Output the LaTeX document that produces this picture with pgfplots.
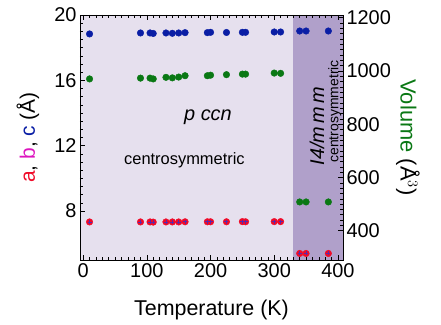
\documentclass[border=0pt]{standalone}
\usepackage{pgfplots}
\pgfplotsset{compat=1.18}
\usepackage{pgfplotstable}
\usepackage{fontspec}
\setmainfont{Liberation Sans}
\setsansfont{Liberation Sans}
\definecolor{bgl}{RGB}{230,224,238}
\definecolor{bgd}{RGB}{176,160,202}
\definecolor{cblue}{RGB}{10,30,165}
\definecolor{cgreen}{RGB}{10,120,20}
\definecolor{cred}{RGB}{240,10,40}
\definecolor{cmag}{RGB}{220,20,190}
\definecolor{cpur}{RGB}{90,40,170}

\pgfplotstableread{
T a b c V
10 7.33 7.33 18.84 970
90 7.33 7.33 18.90 973
105 7.33 7.33 18.90 973
110 7.32 7.32 18.87 970
130 7.33 7.33 18.90 976
140 7.33 7.33 18.88 974
150 7.33 7.33 18.90 977
160 7.34 7.34 18.92 982
195 7.34 7.34 18.92 982
200 7.34 7.34 18.94 984
225 7.34 7.34 18.93 986
250 7.35 7.35 18.94 988
255 7.34 7.34 18.94 988
300 7.35 7.35 18.96 992
310 7.35 7.35 18.96 991
}\pccn
\pgfplotstableread{
T a b c V
340 5.40 5.40 19.02 508
350 5.40 5.40 19.02 508
385 5.40 5.40 19.02 508
}\itet

\begin{document}
\begin{tikzpicture}
\pgfplotsset{
 common/.style={scale only axis, width=263bp, height=245bp, xmin=-5, xmax=408,
   tick align=inside, /pgf/number format/assume math mode=true,
   /pgf/number format/1000 sep={},
   tick label style={font=\fontsize{20}{20}\selectfont},
   label style={font=\fontsize{21}{21}\selectfont},
   major tick length=5bp, minor tick length=2.8bp,
   every tick/.style={black, line width=0.6pt},
   every minor tick/.style={black, line width=0.5pt},
   axis line style={line width=0.8pt},
   axis on top}
}
\begin{axis}[common, name=main, ymin=5, ymax=20,
  axis background/.style={fill=bgl},
  ytick={8,12,16,20}, minor y tick num=7, ytick pos=left,
  xtick={0,100,...,400}, minor x tick num=9, xtick pos=both,
  xticklabel pos=lower,
  xlabel={Temperature (K)},
  xlabel style={at={(axis description cs:0.5,-0.204)}, anchor=center, font=\fontsize{21.5}{21.5}\selectfont},
  ylabel={\textcolor{cred}{a}, \textcolor{cmag}{b}, \textcolor{cblue}{c} (Å)},
  ylabel style={at={(axis description cs:-0.198,0.5)}, anchor=center},
  clip=false]
\fill[bgd] (axis cs:330,5) rectangle (axis cs:408,20);
\addplot[only marks, mark=*, mark size=3.3bp, cblue] table[x=T,y=c] {\pccn};
\addplot[only marks, mark=*, mark size=3.3bp, cblue] table[x=T,y=c] {\itet};
\addplot[only marks, mark=*, mark size=3.3bp, cred] table[x=T,y=a] {\pccn};
\addplot[only marks, mark=*, mark size=3.3bp, cred] table[x=T,y=a] {\itet};
\addplot[only marks, mark=+, mark size=2bp, cpur, line width=0.8pt] table[x=T,y=b] {\pccn};
\addplot[only marks, mark=+, mark size=2bp, cpur, line width=0.8pt] table[x=T,y=b] {\itet};
\node[font=\fontsize{20}{20}\selectfont\itshape] at (axis cs:196,13.75) {p ccn};
\node[font=\fontsize{16.5}{16.5}\selectfont] at (axis cs:159,11.1) {centrosymmetric};
\node[font=\fontsize{20}{20}\selectfont\itshape, rotate=90] at (axis cs:367,13.2) {I4/m\,m\,m};
\node[font=\fontsize{14}{14}\selectfont, rotate=90] at (axis cs:395,14.1) {centrosymmetric};
\end{axis}
\begin{axis}[common, ymin=290, ymax=1210, hide x axis,
  axis y line*=right,
  ytick={400,600,...,1200}, minor y tick num=9,
  ylabel={\textcolor{cgreen}{Volume} (Å$^3$)},
  ylabel style={at={(axis description cs:1.247,0.5)}, anchor=center, rotate=180, font=\fontsize{22}{22}\selectfont}]
\addplot[only marks, mark=*, mark size=3.3bp, cgreen] table[x=T,y=V] {\pccn};
\addplot[only marks, mark=*, mark size=3.3bp, cgreen] table[x=T,y=V] {\itet};
\end{axis}
\pgfresetboundingbox
\path ([xshift=-80bp,yshift=-65bp]main.south west) rectangle ([xshift=98bp,yshift=15bp]main.north east);
\end{tikzpicture}
\end{document}
